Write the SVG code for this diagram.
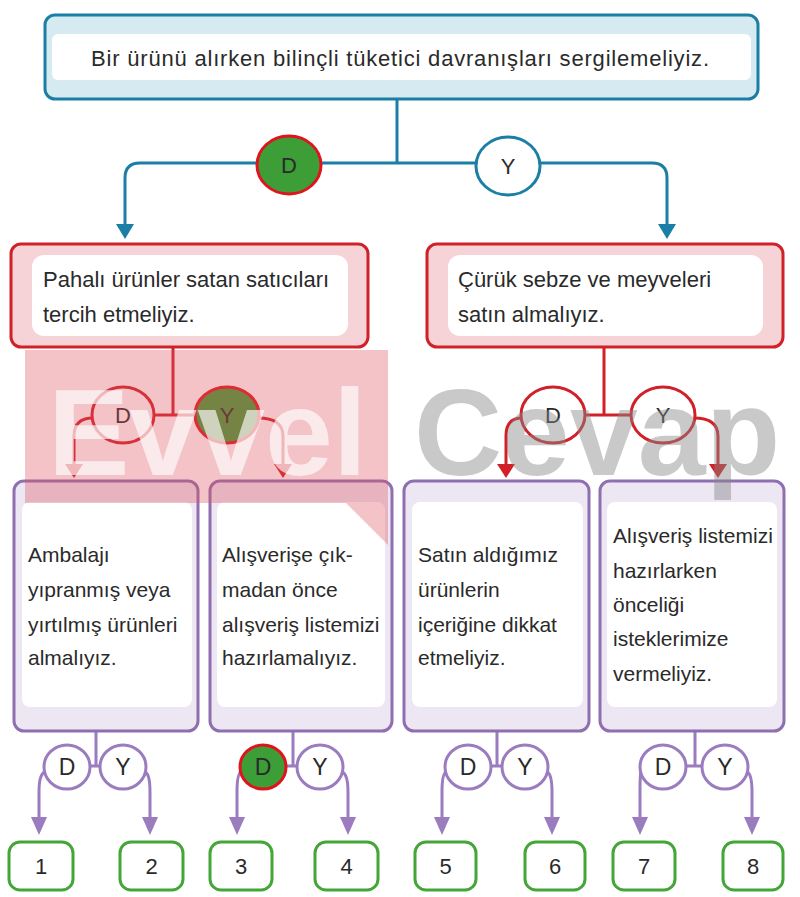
<svg xmlns="http://www.w3.org/2000/svg" width="800" height="897" viewBox="0 0 800 897">
<style>
.t{font-family:"Liberation Sans",Arial,sans-serif;font-size:22px;fill:#2a2a2a}
.s{font-size:21px}
.l{font-size:23px}
.c{text-anchor:middle}
.blue{fill:none;stroke:#1b7ea4;stroke-width:3}
.red{fill:none;stroke:#d12027;stroke-width:3}
.pur{fill:none;stroke:#9a7cbf;stroke-width:3}
.rbox{fill:#f6d3d6;stroke:#d12027;stroke-width:3}
.pbox{fill:#ece7f3;stroke:#8f6fb0;stroke-width:3}
.inner{fill:#ffffff}
.nbox{fill:#ffffff;stroke:#43a637;stroke-width:3}
.cw{fill:#ffffff}
.cg{fill:#3d9d36;stroke:#e0141e;stroke-width:3}
</style>
<defs>
<marker id="ab" markerUnits="userSpaceOnUse" markerWidth="15" markerHeight="18" viewBox="0 0 15 18" refX="0" refY="9" orient="auto"><path d="M0,0 L15,9 L0,18 z" fill="#1b7ea4"/></marker>
<marker id="ar" markerUnits="userSpaceOnUse" markerWidth="14" markerHeight="18" viewBox="0 0 14 18" refX="0" refY="9" orient="auto"><path d="M0,0 L14,9 L0,18 z" fill="#d12027"/></marker>
<marker id="ap" markerUnits="userSpaceOnUse" markerWidth="18" markerHeight="16" viewBox="0 0 18 16" refX="0" refY="8" orient="auto"><path d="M0,0 L18,8 L0,16 z" fill="#9a7cbf"/></marker>
</defs>

<g id="connectors">
<path class="blue" d="M397 100 V163"/>
<path class="blue" d="M397 163 H140 Q125 163 125 178 V224" marker-end="url(#ab)"/>
<path class="blue" d="M397 163 H652 Q667 163 667 178 V224" marker-end="url(#ab)"/>
<path class="red" d="M173 347 V415 M154 415 H196"/>
<path class="red" d="M93 418 Q74 418 74 436 V464" marker-end="url(#ar)"/>
<path class="red" d="M258 418 Q283 418 283 436 V464" marker-end="url(#ar)"/>
<path class="red" d="M604 347 V415 M585 415 H632"/>
<path class="red" d="M522 418 Q506 418 506 436 V464" marker-end="url(#ar)"/>
<path class="red" d="M694 418 Q718 418 718 436 V464" marker-end="url(#ar)"/>
<path class="pur" d="M96 731 V766 M90 766 H100"/>
<path class="pur" d="M45 772 Q39 774 39 792 V817" marker-end="url(#ap)"/>
<path class="pur" d="M145 772 Q150 774 150 792 V817" marker-end="url(#ap)"/>
<path class="pur" d="M293 731 V766 M286 766 H297"/>
<path class="pur" d="M241 772 Q237 774 237 792 V817" marker-end="url(#ap)"/>
<path class="pur" d="M342 772 Q348 774 348 792 V817" marker-end="url(#ap)"/>
<path class="pur" d="M497 731 V766 M491 766 H502"/>
<path class="pur" d="M446 772 Q442 774 442 792 V817" marker-end="url(#ap)"/>
<path class="pur" d="M547 772 Q552 774 552 792 V817" marker-end="url(#ap)"/>
<path class="pur" d="M695 731 V766 M686 766 H702"/>
<path class="pur" d="M641 772 Q640 774 640 792 V817" marker-end="url(#ap)"/>
<path class="pur" d="M747 772 Q752 774 752 792 V817" marker-end="url(#ap)"/>
</g>

<g id="top">
<rect x="45" y="15" width="713" height="84" rx="10" fill="#d5eaf1" stroke="#1b7ea4" stroke-width="3"/>
<rect class="inner" x="52" y="34" width="699" height="46" rx="6"/>
<text class="t c" x="400" y="66" textLength="618" lengthAdjust="spacing">Bir ürünü alırken bilinçli tüketici davranışları sergilemeliyiz.</text>
</g>
<g id="topD"><ellipse class="cg" cx="289" cy="165" rx="32" ry="29"/><text class="t c" x="289" y="173">D</text></g>
<g id="topY"><ellipse cx="508" cy="166" rx="32" ry="29" fill="#fff" stroke="#1b7ea4" stroke-width="3"/><text class="t c" x="508" y="174">Y</text></g>

<g id="boxL">
<rect class="rbox" x="11" y="244" width="357" height="103" rx="10"/>
<rect class="inner" x="32" y="255" width="316" height="81" rx="12"/>
<text class="t" x="43" y="287">Pahalı ürünler satan satıcıları</text>
<text class="t" x="43" y="322">tercih etmeliyiz.</text>
</g>
<g id="boxR">
<rect class="rbox" x="427" y="244" width="356" height="103" rx="10"/>
<rect class="inner" x="448" y="255" width="315" height="81" rx="12"/>
<text class="t" x="458" y="287">Çürük sebze ve meyveleri</text>
<text class="t" x="458" y="322">satın almalıyız.</text>
</g>
<g id="LD"><ellipse class="cw" cx="123" cy="415" rx="31" ry="28" stroke="#d12027" stroke-width="3"/><text class="t c" x="123" y="423">D</text></g>
<g id="LY"><ellipse class="cg" cx="227" cy="415" rx="32" ry="28" stroke="#d12027"/><text class="t c" x="227" y="423">Y</text></g>
<g id="RD"><ellipse class="cw" cx="553" cy="415" rx="32" ry="28" stroke="#d12027" stroke-width="3"/><text class="t c" x="553" y="423">D</text></g>
<g id="RY"><ellipse class="cw" cx="663" cy="415" rx="32" ry="28" stroke="#d12027" stroke-width="3"/><text class="t c" x="663" y="423">Y</text></g>

<g id="box1">
<rect class="pbox" x="14" y="481" width="184" height="250" rx="10"/>
<rect class="inner" x="22" y="502" width="170" height="205" rx="8"/>
<text class="t s" x="28" y="562">Ambalajı</text>
<text class="t s" x="28" y="597">yıpranmış veya</text>
<text class="t s" x="28" y="632">yırtılmış ürünleri</text>
<text class="t s" x="28" y="665">almalıyız.</text>
</g>
<g id="box2">
<rect class="pbox" x="210" y="481" width="182" height="250" rx="10"/>
<rect class="inner" x="217" y="502" width="168" height="205" rx="8"/>
<text class="t s" x="222" y="562">Alışverişe çık-</text>
<text class="t s" x="222" y="597">madan önce</text>
<text class="t s" x="222" y="632">alışveriş listemizi</text>
<text class="t s" x="222" y="665">hazırlamalıyız.</text>
</g>
<g id="box3">
<rect class="pbox" x="404" y="481" width="185" height="250" rx="10"/>
<rect class="inner" x="412" y="502" width="171" height="205" rx="8"/>
<text class="t s" x="418" y="562">Satın aldığımız</text>
<text class="t s" x="418" y="597">ürünlerin</text>
<text class="t s" x="418" y="632">içeriğine dikkat</text>
<text class="t s" x="418" y="665">etmeliyiz.</text>
</g>
<g id="box4">
<rect class="pbox" x="600" y="481" width="184" height="250" rx="10"/>
<rect class="inner" x="607" y="502" width="170" height="205" rx="8"/>
<text class="t s" x="613" y="543">Alışveriş listemizi</text>
<text class="t s" x="613" y="578">hazırlarken</text>
<text class="t s" x="613" y="612">önceliği</text>
<text class="t s" x="613" y="646">isteklerimize</text>
<text class="t s" x="613" y="681">vermeliyiz.</text>
</g>

<g id="c1D"><ellipse class="cw" cx="67" cy="767" rx="23" ry="22" stroke="#9a7cbf" stroke-width="3"/><text class="t l c" x="67" y="775">D</text></g>
<g id="c1Y"><ellipse class="cw" cx="123" cy="767" rx="23" ry="22" stroke="#9a7cbf" stroke-width="3"/><text class="t l c" x="123" y="775">Y</text></g>
<g id="c2D"><ellipse class="cg" cx="263" cy="767" rx="23" ry="22"/><text class="t l c" x="263" y="775">D</text></g>
<g id="c2Y"><ellipse class="cw" cx="320" cy="767" rx="23" ry="22" stroke="#9a7cbf" stroke-width="3"/><text class="t l c" x="320" y="775">Y</text></g>
<g id="c3D"><ellipse class="cw" cx="468" cy="767" rx="23" ry="22" stroke="#9a7cbf" stroke-width="3"/><text class="t l c" x="468" y="775">D</text></g>
<g id="c3Y"><ellipse class="cw" cx="525" cy="767" rx="23" ry="22" stroke="#9a7cbf" stroke-width="3"/><text class="t l c" x="525" y="775">Y</text></g>
<g id="c4D"><ellipse class="cw" cx="663" cy="767" rx="23" ry="22" stroke="#9a7cbf" stroke-width="3"/><text class="t l c" x="663" y="775">D</text></g>
<g id="c4Y"><ellipse class="cw" cx="725" cy="767" rx="23" ry="22" stroke="#9a7cbf" stroke-width="3"/><text class="t l c" x="725" y="775">Y</text></g>

<g id="n1"><rect class="nbox" x="9" y="842" width="64" height="48" rx="11"/><text class="t c" x="41" y="874">1</text></g>
<g id="n2"><rect class="nbox" x="120" y="842" width="63" height="48" rx="11"/><text class="t c" x="151.5" y="874">2</text></g>
<g id="n3"><rect class="nbox" x="210" y="842" width="62" height="48" rx="11"/><text class="t c" x="241" y="874">3</text></g>
<g id="n4"><rect class="nbox" x="315" y="842" width="63" height="48" rx="11"/><text class="t c" x="346.5" y="874">4</text></g>
<g id="n5"><rect class="nbox" x="415" y="842" width="61" height="48" rx="11"/><text class="t c" x="445.5" y="874">5</text></g>
<g id="n6"><rect class="nbox" x="525" y="842" width="60" height="48" rx="11"/><text class="t c" x="555" y="874">6</text></g>
<g id="n7"><rect class="nbox" x="613" y="842" width="62" height="48" rx="11"/><text class="t c" x="644" y="874">7</text></g>
<g id="n8"><rect class="nbox" x="723" y="842" width="60" height="48" rx="11"/><text class="t c" x="753" y="874">8</text></g>

<g id="watermark">
<polygon points="25,350 388,350 388,545 346,503 25,503" fill="#e0545f" opacity="0.35"/>
<text x="48" y="475" font-family="Liberation Sans, Arial, sans-serif" font-weight="bold" font-size="122" fill="#ffffff" opacity="0.65">Evvel</text>
<text x="414" y="475" font-family="Liberation Sans, Arial, sans-serif" font-weight="bold" font-size="122" fill="#888888" opacity="0.45">Cevap</text>
</g>
</svg>
